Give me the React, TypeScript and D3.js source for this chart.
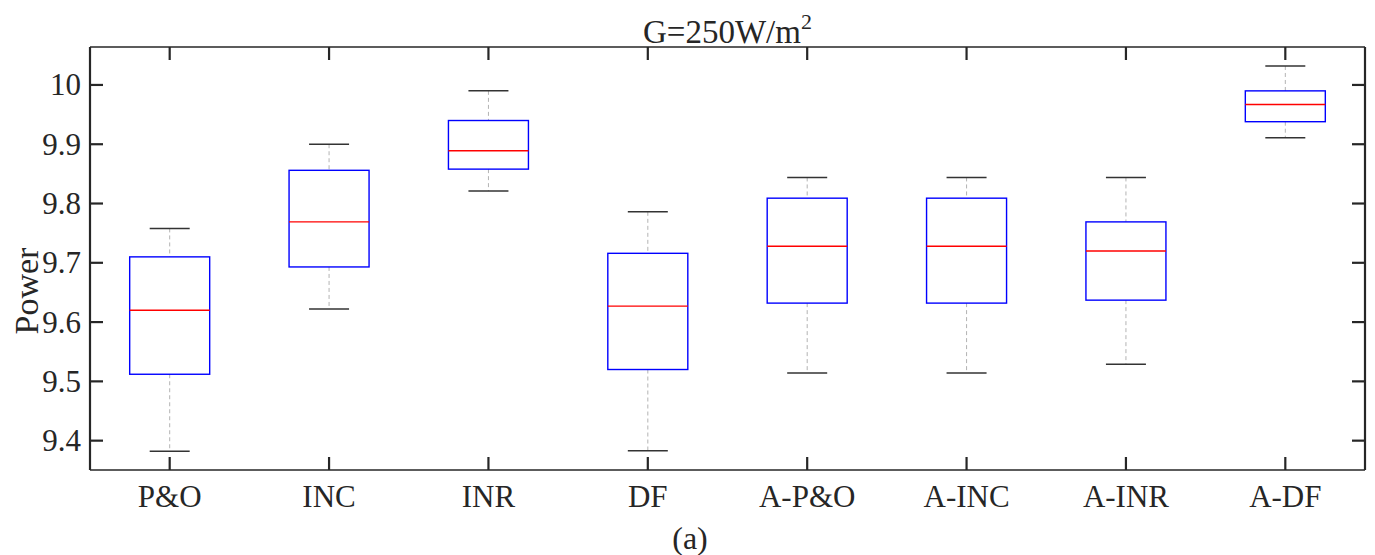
import React from "react";
import * as d3 from "d3";

// Box-plot statistics for each MPPT method
const categories = ["P&O", "INC", "INR", "DF", "A-P&O", "A-INC", "A-INR", "A-DF"];
const upperWhisker = [9.758, 9.9, 9.99, 9.786, 9.844, 9.844, 9.844, 10.032];
const q3 = [9.71, 9.856, 9.94, 9.716, 9.809, 9.809, 9.769, 9.99];
const median = [9.62, 9.769, 9.889, 9.627, 9.728, 9.728, 9.72, 9.967];
const q1 = [9.512, 9.693, 9.858, 9.52, 9.632, 9.632, 9.637, 9.938];
const lowerWhisker = [9.382, 9.622, 9.821, 9.383, 9.514, 9.514, 9.529, 9.911];
const yTicks = [9.4, 9.5, 9.6, 9.7, 9.8, 9.9, 10];

const W = 1375;
const H = 555;
const left = 90;
const right = 1365;
const top = 47;
const bottom = 470;
const font = "Liberation Serif, Times New Roman, serif";
const axisColor = "#262626";

export default function App() {
  const x = d3.scaleLinear().domain([0.5, categories.length + 0.5]).range([left, right]);
  const y = d3.scaleLinear().domain([9.3505, 10.064]).range([bottom, top]);
  const boxHalf = 40;
  const capHalf = 20;
  const tickLen = 13;

  return (
    <svg
      width={W}
      height={H}
      style={{ position: "absolute", left: 0, top: 0, background: "#fff" }}
      fontFamily={font}
    >
      {/* boxes */}
      {categories.map((c, i) => {
        const cx = x(i + 1);
        return (
          <g key={c}>
            <line x1={cx} x2={cx} y1={y(upperWhisker[i])} y2={y(q3[i])} stroke="#b3b3b3" strokeWidth={1} strokeDasharray="4,3" />
            <line x1={cx} x2={cx} y1={y(q1[i])} y2={y(lowerWhisker[i])} stroke="#b3b3b3" strokeWidth={1} strokeDasharray="4,3" />
            <line x1={cx - capHalf} x2={cx + capHalf} y1={y(upperWhisker[i])} y2={y(upperWhisker[i])} stroke="#333" strokeWidth={1.5} />
            <line x1={cx - capHalf} x2={cx + capHalf} y1={y(lowerWhisker[i])} y2={y(lowerWhisker[i])} stroke="#333" strokeWidth={1.5} />
            <rect
              x={cx - boxHalf}
              y={y(q3[i])}
              width={boxHalf * 2}
              height={y(q1[i]) - y(q3[i])}
              fill="none"
              stroke="#0000ff"
              strokeWidth={1.4}
            />
            <line x1={cx - boxHalf} x2={cx + boxHalf} y1={y(median[i])} y2={y(median[i])} stroke="#ff0000" strokeWidth={1.4} />
          </g>
        );
      })}

      {/* frame */}
      <line x1={left} x2={right} y1={top} y2={top} stroke={axisColor} strokeWidth={1.5} />
      <line x1={left} x2={right} y1={bottom} y2={bottom} stroke={axisColor} strokeWidth={1.5} />
      <line x1={left} x2={left} y1={top} y2={bottom} stroke={axisColor} strokeWidth={2.2} />
      <line x1={right} x2={right} y1={top} y2={bottom} stroke={axisColor} strokeWidth={2.2} />

      {/* x ticks and labels */}
      {categories.map((c, i) => {
        const cx = x(i + 1);
        return (
          <g key={"xt" + c}>
            <line x1={cx} x2={cx} y1={bottom} y2={bottom - tickLen} stroke={axisColor} strokeWidth={2.2} />
            <line x1={cx} x2={cx} y1={top} y2={top + tickLen} stroke={axisColor} strokeWidth={2.2} />
            <text x={cx} y={507} textAnchor="middle" fontSize={31} fill="#262626">
              {c}
            </text>
          </g>
        );
      })}

      {/* y ticks and labels */}
      {yTicks.map((t) => (
        <g key={"yt" + t}>
          <line x1={left} x2={left + tickLen} y1={y(t)} y2={y(t)} stroke={axisColor} strokeWidth={2.2} />
          <line x1={right} x2={right - tickLen} y1={y(t)} y2={y(t)} stroke={axisColor} strokeWidth={2.2} />
          <text x={81} y={y(t) + 10.5} textAnchor="end" fontSize={31} fill="#262626">
            {d3.format("~g")(t)}
          </text>
        </g>
      ))}

      {/* y axis title */}
      <text
        transform="translate(38, 291) rotate(-90)"
        textAnchor="middle"
        fontSize={34}
        fill="#262626"
      >
        Power
      </text>

      {/* title */}
      <text x={(left + right) / 2} y={43} textAnchor="middle" fontSize={33} fill="#262626">
        G=250W/m<tspan fontSize={22} dy={-14}>2</tspan>
      </text>

      {/* caption */}
      <text x={690} y={549} textAnchor="middle" fontSize={32} fill="#262626">
        (a)
      </text>
    </svg>
  );
}
